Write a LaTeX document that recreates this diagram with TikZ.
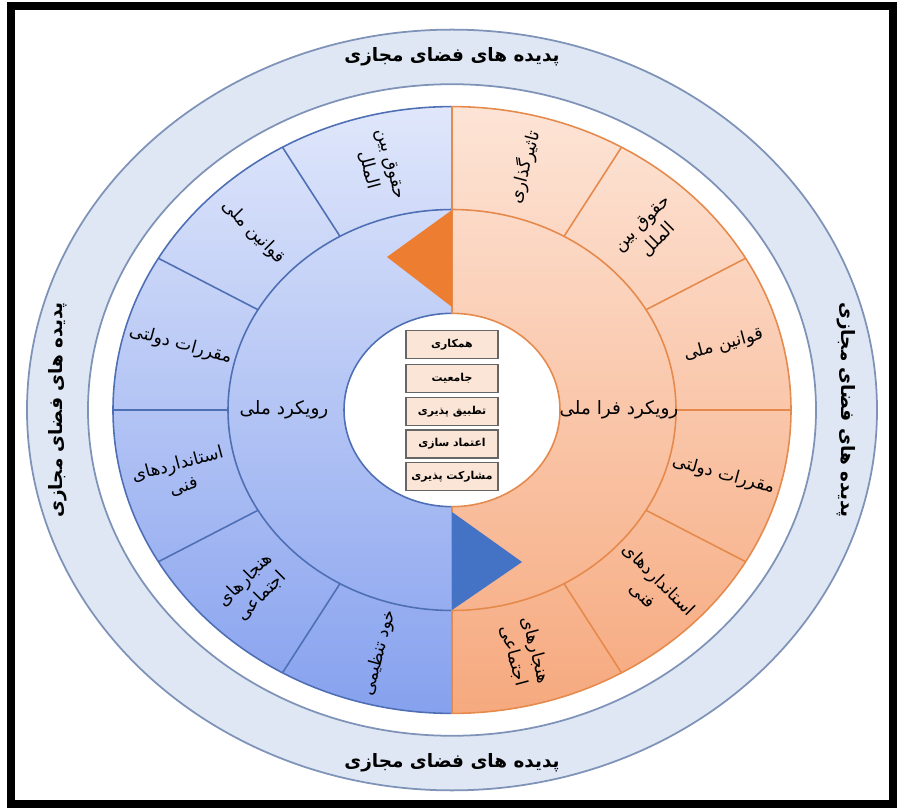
\documentclass[tikz,border=0pt]{standalone}
\usepackage{fontspec}
\usepackage{tikz}
\usetikzlibrary{shapes.geometric}
\TeXXeTstate=1
\newfontfamily\fafont[Script=Arabic]{DejaVu Sans}
\newcommand{\fa}[1]{{\fafont\beginR #1\endR}}
\definecolor{ringfill}{HTML}{DEE7F3}
\definecolor{ringline}{HTML}{7F93B8}
\definecolor{bluetop}{HTML}{E0E7FB}
\definecolor{bluebot}{HTML}{86A1EE}
\definecolor{blueline}{HTML}{4F6FB5}
\definecolor{orangetop}{HTML}{FDE4D6}
\definecolor{orangebot}{HTML}{F6A97E}
\definecolor{orangeline}{HTML}{E58A4C}
\definecolor{triorange}{HTML}{ED7D31}
\definecolor{triblue}{HTML}{4472C4}
\definecolor{boxfill}{HTML}{FBE5D6}
\tikzstyle{sector} = [font=\fontsize{10}{13}\selectfont, align=center, inner sep=1pt]
\tikzstyle{approach} = [font=\fontsize{10.5}{13}\selectfont, inner sep=1pt]
\tikzstyle{ringtext} = [font=\fontsize{10.5}{13}\selectfont\bfseries, inner sep=1pt]
\tikzstyle{valuebox} = [draw=gray!80!black, fill=boxfill, line width=1.1pt, minimum width=1.84cm, minimum height=0.56cm, font=\fontsize{6.2}{7}\selectfont\bfseries, inner sep=0]

\begin{document}
\begin{tikzpicture}[x=0.02cm, y=0.02cm]
	\useasboundingbox (-452,-401) rectangle (450,410);
	\draw[line width=4.5pt] (-441,-394) rectangle (441,404);
	\begin{scope}[yscale=0.895]
		% outer ring
		\fill[ringfill, even odd rule] (0,0) circle (425) (0,0) circle (364);
		\draw[ringline, line width=1pt] (0,0) circle (425) (0,0) circle (364);
		% two halves
		\shade[top color=bluetop, bottom color=bluebot] (90:339) arc (90:270:339) -- (270:108) arc (270:90:108) -- cycle;
		\shade[top color=orangetop, bottom color=orangebot] (90:339) arc (90:-90:339) -- (-90:108) arc (-90:90:108) -- cycle;
		\draw[blueline, line width=0.9pt] (90:339) arc (90:270:339) (90:224) arc (90:270:224) (90:108) arc (90:270:108);
		\draw[orangeline, line width=0.9pt] (90:339) arc (90:-90:339) -- (-90:108) arc (-90:90:108) -- cycle (90:224) arc (90:-90:224);
		\foreach \a in {120,150,180,210,240}
			\draw[blueline, line width=0.9pt] (\a:224) -- (\a:339);
		\foreach \a in {60,30,0,-30,-60}
			\draw[orangeline, line width=0.9pt] (\a:224) -- (\a:339);
		% sector labels
		\node[sector, rotate=-75] (nat1) at (105:281) {\fa{حقوق بین}\\\fa{الملل}};
		\node[sector, rotate=-45] (nat2) at (135:281) {\fa{قوانین ملی}};
		\node[sector, rotate=-15] (nat3) at (165:281) {\fa{مقررات دولتی}};
		\node[sector, rotate=15] (nat4) at (195:281) {\fa{استانداردهای}\\\fa{فنی}};
		\node[sector, rotate=45] (nat5) at (225:281) {\fa{هنجارهای}\\\fa{اجتماعی}};
		\node[sector, rotate=75] (nat6) at (255:281) {\fa{خود تنظیمی}};
		\node[sector, rotate=75] (trn1) at (75:281) {\fa{تاثیرگذاری}};
		\node[sector, rotate=45] (trn2) at (45:281) {\fa{حقوق بین}\\\fa{الملل}};
		\node[sector, rotate=15] (trn3) at (15:281) {\fa{قوانین ملی}};
		\node[sector, rotate=-15] (trn4) at (-15:281) {\fa{مقررات دولتی}};
		\node[sector, rotate=-45] (trn5) at (-45:281) {\fa{استانداردهای}\\\fa{فنی}};
		\node[sector, rotate=-75] (trn6) at (-75:281) {\fa{هنجارهای}\\\fa{اجتماعی}};
		% outer ring labels
		\node[ringtext] (cyberT) at (90:394.5) {\fa{پدیده های فضای مجازی}};
		\node[ringtext] (cyberB) at (270:394.5) {\fa{پدیده های فضای مجازی}};
		\node[ringtext, rotate=90] (cyberL) at (180:394.5) {\fa{پدیده های فضای مجازی}};
		\node[ringtext, rotate=-90] (cyberR) at (0:394.5) {\fa{پدیده های فضای مجازی}};
	\end{scope}
	% markers
	\fill[triorange] (0,200) -- (-65,153) -- (0,103) -- cycle;
	\fill[triblue] (0,-102) -- (70,-152) -- (0,-200) -- cycle;
	\node[approach] (national) at (-168,0) {\fa{رویکرد ملی}};
	\node[approach] (transnational) at (167,0) {\fa{رویکرد فرا ملی}};
	% principles
	\foreach \i/\y/\t in {1/65.5/همکاری, 2/31.5/جامعیت, 3/-1.5/تطبیق پذیری, 4/-34/اعتماد سازی, 5/-66.5/مشارکت پذیری}
		\node[valuebox] (p\i) at (0,\y) {\fa{\t}};
\end{tikzpicture}
\end{document}
